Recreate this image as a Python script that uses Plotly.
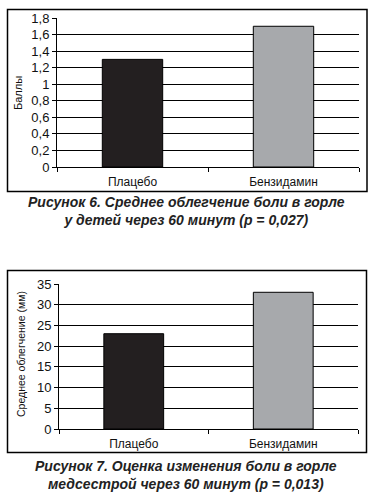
import plotly.graph_objects as go

categories = ["Плацебо", "Бензидамин"]
values1 = [1.3, 1.7]
values2 = [23, 33]
bar_colors = ["#231f20", "#a7a9ac"]
ytitle1 = "Баллы"
ytitle2 = "Среднее облегчение (мм)"
caption1 = "Рисунок 6. Среднее облегчение боли в горле<br>у детей через 60 минут (p = 0,027)"
caption2 = "Рисунок 7. Оценка изменения боли в горле<br>медсестрой через 60 минут (p = 0,013)"

W, H = 372, 494
def px(x): return x / W
def py(y): return 1 - y / H

fig = go.Figure()
fig.add_trace(go.Bar(x=categories, y=values1, marker=dict(color=bar_colors, line=dict(color="#000", width=1)),
                     width=0.4, xaxis="x", yaxis="y", showlegend=False, hoverinfo="skip"))
fig.add_trace(go.Bar(x=categories, y=values2, marker=dict(color=bar_colors, line=dict(color="#000", width=1)),
                     width=0.4, xaxis="x2", yaxis="y2", showlegend=False, hoverinfo="skip"))

tickfont_y = dict(family="Liberation Sans, Arial", size=13, color="#111")
tickfont_x = dict(family="Liberation Sans Narrow, Arial Narrow, Liberation Sans", size=12, color="#111")

common_x = dict(showline=True, linecolor="#000", linewidth=1, ticks="outside", tickson="boundaries",
                ticklen=4, tickcolor="#000", showgrid=False, tickfont=tickfont_x, fixedrange=True,
                automargin=False, ticklabelstandoff=4)
common_y = dict(showline=True, linecolor="#000", linewidth=1, ticks="outside", ticklen=4, tickcolor="#000",
                showgrid=True, gridcolor="#000", gridwidth=1, zeroline=False, tickfont=tickfont_y,
                automargin=False, fixedrange=True)

fig.update_layout(
    template="none",
    width=W, height=H, margin=dict(l=0, r=0, t=0, b=0, autoexpand=False),
    paper_bgcolor="white", plot_bgcolor="white",
    separators=", ",
    bargap=0.6,
    xaxis=dict(domain=[px(57), px(359)], anchor="y", **common_x),
    yaxis=dict(domain=[py(167), py(18)], anchor="x", range=[0, 1.8], dtick=0.2, **common_y),
    xaxis2=dict(domain=[px(59), px(358)], anchor="y2", **common_x),
    yaxis2=dict(domain=[py(429), py(284)], anchor="x2", range=[0, 35], dtick=5, **common_y),
    shapes=[
        dict(type="rect", xref="paper", yref="paper", x0=px(7.5), x1=px(367), y0=py(191.5), y1=py(9.5),
             line=dict(color="#000", width=1.5)),
        dict(type="rect", xref="paper", yref="paper", x0=px(7.5), x1=px(366.5), y0=py(452.5), y1=py(270.5),
             line=dict(color="#000", width=1.5)),
    ],
    annotations=[
        dict(text=ytitle1, xref="paper", yref="paper", x=px(18), y=py(93), textangle=-90, showarrow=False,
             xanchor="center", yanchor="middle",
             font=dict(family="Liberation Sans Narrow, Liberation Sans", size=11, color="#111")),
        dict(text=ytitle2, xref="paper", yref="paper", x=px(21), y=py(354), textangle=-90, showarrow=False,
             xanchor="center", yanchor="middle",
             font=dict(family="Liberation Sans Narrow, Liberation Sans", size=10.5, color="#111")),
        dict(text="<b><i>" + caption1 + "</i></b>", xref="paper", yref="paper", x=px(186), y=py(211),
             showarrow=False, align="center", xanchor="center", yanchor="middle",
             font=dict(family="Liberation Sans, Arial", size=14, color="#222")),
        dict(text="<b><i>" + caption2 + "</i></b>", xref="paper", yref="paper", x=px(186), y=py(474.5),
             showarrow=False, align="center", xanchor="center", yanchor="middle",
             font=dict(family="Liberation Sans, Arial", size=14, color="#222")),
    ],
)

fig.write_html("out.html", config={"displayModeBar": False, "staticPlot": True},
               post_script="document.body.style.margin='0';document.body.style.overflow='hidden';")
